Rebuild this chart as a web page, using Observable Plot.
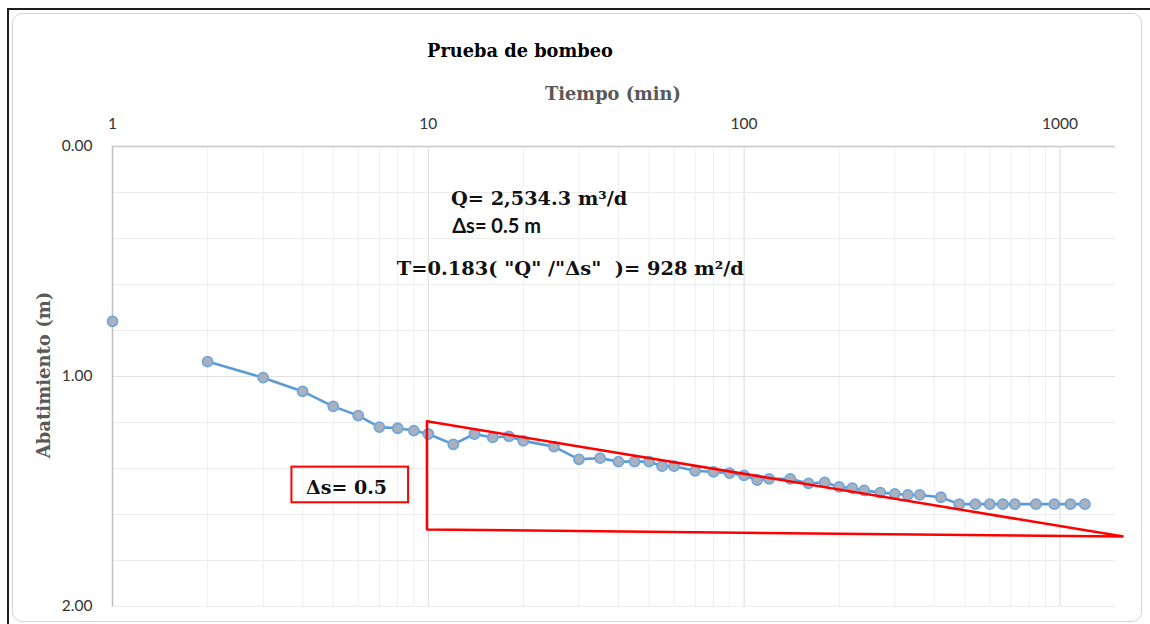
<!DOCTYPE html>
<html>
<head>
<meta charset="utf-8">
<script src="https://cdn.jsdelivr.net/npm/d3@7"></script>
<script src="https://cdn.jsdelivr.net/npm/@observablehq/plot@0.6"></script>
<style>
  html, body { margin: 0; padding: 0; background: #fff; }
  #page { position: relative; width: 1150px; height: 624px; overflow: hidden; }
  #edge { position: absolute; left: 7px; top: 8px; width: 1150px; height: 630px;
          border-top: 2px solid #1e1e1e; border-left: 2px solid #1e1e1e; }
  #area { position: absolute; left: 12px; top: 13px; width: 1128px; height: 607px;
          border: 1px solid #d4d4d4; border-radius: 10px; }
  .lbl { position: absolute; font-family: "DejaVu Serif", serif; font-weight: bold; white-space: nowrap; }
  #title { left: 520px; top: 50px; transform: translate(-50%, -50%); font-size: 17.8px; color: #000; }
  #xlabel { left: 613px; top: 93px; transform: translate(-50%, -50%); font-size: 17.8px; color: #595959; }
  #ylabel { left: 43px; top: 375px; transform: translate(-50%, -50%) rotate(-90deg); font-size: 18px; color: #595959; }
  #chart { position: absolute; left: 0; top: 0; }
</style>
</head>
<body>
<div id="page">
  <div id="edge"></div>
  <div id="area"></div>
  <div id="chart"></div>
  <div class="lbl" id="title">Prueba de bombeo</div>
  <div class="lbl" id="xlabel">Tiempo (min)</div>
  <div class="lbl" id="ylabel">Abatimiento (m)</div>
</div>
<script>
// Pumping test readings: elapsed time (min) and drawdown (m)
const times = [1, 2, 3, 4, 5, 6, 7, 8, 9, 10, 12, 14, 16, 18, 20, 25, 30, 35, 40, 45, 50, 55, 60,
  70, 80, 90, 100, 110, 120, 140, 160, 180, 200, 220, 240, 270, 300, 330, 360, 420, 480,
  540, 600, 660, 720, 840, 960, 1080, 1200];
const drawdown = [0.76, 0.935, 1.005, 1.065, 1.13, 1.17, 1.22, 1.225, 1.235, 1.25, 1.295, 1.25,
  1.265, 1.26, 1.28, 1.305, 1.36, 1.355, 1.37, 1.37, 1.37, 1.39, 1.39, 1.41, 1.415, 1.42, 1.43,
  1.45, 1.445, 1.445, 1.465, 1.46, 1.48, 1.485, 1.495, 1.505, 1.51, 1.515, 1.515, 1.525, 1.555,
  1.555, 1.555, 1.555, 1.555, 1.555, 1.555, 1.555, 1.555];

// Axis ticks and grid
const xTicks = [1, 10, 100, 1000];
const xMinor = [2, 3, 4, 5, 6, 7, 8, 9, 20, 30, 40, 50, 60, 70, 80, 90, 200, 300, 400, 500, 600, 700, 800, 900];
const yTicks = [0, 1, 2];
const yGrid = [0.2, 0.4, 0.6, 0.8, 1.2, 1.4, 1.6, 1.8, 2.0];

// Straight-line fit triangle used to read Δs over one log cycle
const triTime = [9.9, 1590, 9.9, 9.9];
const triDrawdown = [1.195, 1.696, 1.665, 1.195];

// Δs label box (time and drawdown extents)
const boxTime = [3.7, 8.66];
const boxDrawdown = [1.394, 1.549];

// Annotation texts, anchored at (time, drawdown)
const noteText = ["Q= 2,534.3 m³/d", "Δs= 0.5 m", "T=0.183( \"Q\" /\"Δs\"  )= 928 m²/d", "Δs= 0.5"];
const noteTime = [11.8, 11.9, 7.95, 4.1];
const noteDrawdown = [0.226, 0.348, 0.530, 1.483];
const noteFont = ["DejaVu Serif", "Lato", "DejaVu Serif", "DejaVu Serif"];
const noteSize = [19.3, 20, 19.4, 19];

const readings = times.map((t, i) => ({t, s: drawdown[i]}));
const triangle = triTime.map((t, i) => ({t, s: triDrawdown[i]}));
const notes = noteText.map((text, i) => ({text, t: noteTime[i], s: noteDrawdown[i], font: noteFont[i], size: noteSize[i]}));

const chart = Plot.plot({
  width: 1150,
  height: 624,
  marginLeft: 112,
  marginRight: 35,
  marginTop: 146,
  marginBottom: 18,
  style: {background: "transparent", fontFamily: "Lato, sans-serif", fontSize: "15.5px", color: "#404040"},
  x: {type: "log", domain: [1, 1500], axis: null},
  y: {domain: [0, 2], reverse: true, axis: null},
  marks: [
    Plot.gridX(xMinor, {stroke: "#efefef", strokeOpacity: 1}),
    Plot.gridX([10, 100, 1000], {stroke: "#d9d9d9", strokeOpacity: 1}),
    Plot.gridY(yGrid, {stroke: "#ededed", strokeOpacity: 1}),
    Plot.gridY([1], {stroke: "#e2e2e2", strokeOpacity: 1}),
    Plot.ruleX([1], {stroke: "#bfbfbf", strokeWidth: 1.5}),
    Plot.ruleY([0], {stroke: "#c8c8c8", strokeWidth: 1.5}),
    Plot.axisX(xTicks, {anchor: "top", tickSize: 0, tickPadding: 18, label: null, tickFormat: d => String(d), fill: "#333"}),
    Plot.axisY(yTicks, {anchor: "left", tickSize: 0, tickPadding: 20, label: null, tickFormat: d => d.toFixed(2), fill: "#333"}),
    // measured drawdown curve (first reading stands alone)
    Plot.line(readings.filter(d => d.t > 1), {x: "t", y: "s", stroke: "#5b9bd5", strokeWidth: 2.6}),
    Plot.dot(readings, {x: "t", y: "s", r: 5, fill: "#aab1bd", stroke: "#6fa6dc", strokeWidth: 1.8}),
    // Δs triangle
    Plot.line(triangle, {x: "t", y: "s", stroke: "#ff0000", strokeWidth: 2.5, strokeLinejoin: "miter"}),
    Plot.rect([{}], {x1: boxTime[0], x2: boxTime[1], y1: boxDrawdown[0], y2: boxDrawdown[1], fill: "none", stroke: "#ff0000", strokeWidth: 2}),
    ...notes.map(n => Plot.text([n], {x: "t", y: "s", text: "text", textAnchor: "start", fill: "#111",
      fontFamily: n.font, fontSize: n.size, fontWeight: "bold"}))
  ]
});
document.getElementById("chart").append(chart);
</script>
</body>
</html>
